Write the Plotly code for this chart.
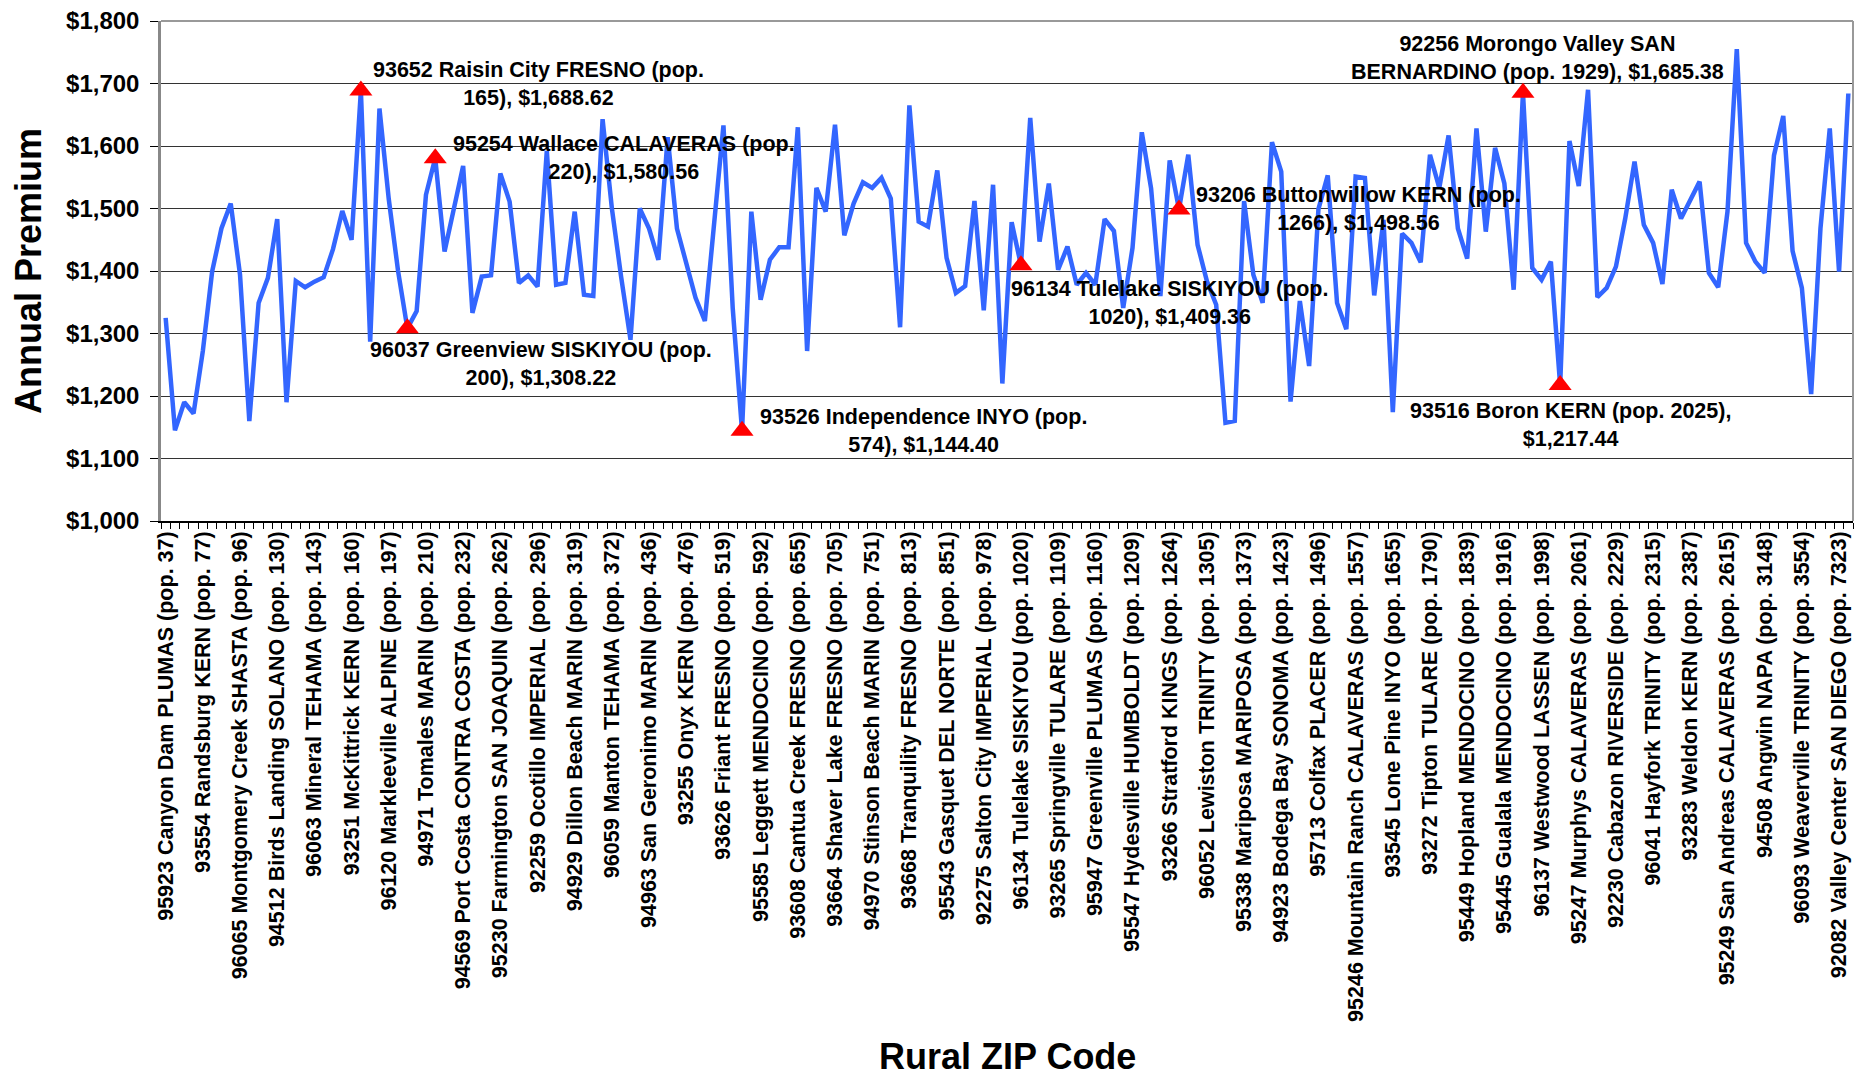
import plotly.graph_objects as go

# ---- data ----
premiums = [
    1325, 1145, 1190, 1172, 1272, 1399, 1468, 1508, 1394, 1160,
    1349, 1389, 1483, 1190, 1384, 1374, 1383, 1390, 1435, 1496,
    1450, 1688.62, 1287, 1660, 1515, 1400, 1308.22, 1336, 1522, 1580.56,
    1431, 1500, 1568, 1333, 1391, 1393, 1556, 1511, 1381, 1393,
    1375, 1592, 1378, 1381, 1495, 1362, 1360, 1643, 1500, 1390,
    1290, 1500, 1468, 1418, 1614, 1468, 1410, 1357, 1320, 1480,
    1633, 1340, 1144.40, 1495, 1354, 1418, 1438, 1438, 1630, 1272,
    1533, 1495, 1634, 1457, 1508, 1542, 1533, 1549, 1516, 1310,
    1665, 1479, 1471, 1561, 1421, 1365, 1376, 1512, 1337, 1538,
    1220, 1478, 1409.36, 1645, 1447, 1540, 1402, 1439, 1378, 1397,
    1378, 1483, 1464, 1341, 1437, 1622, 1532, 1360, 1577, 1498.56,
    1586, 1442, 1384, 1346, 1157, 1160, 1512, 1394, 1349, 1606,
    1559, 1191, 1352, 1248, 1499, 1553, 1349, 1307, 1551, 1549,
    1361, 1482, 1174, 1460, 1445, 1414, 1586, 1533, 1617, 1468,
    1420, 1628, 1463, 1597, 1540, 1370, 1685.38, 1405, 1386, 1415,
    1217.44, 1608, 1536, 1690, 1358, 1373, 1407, 1484, 1575, 1474,
    1445, 1379, 1530, 1484, 1514, 1543, 1397, 1374, 1495, 1755,
    1445, 1415, 1397, 1585, 1648, 1432, 1373, 1203, 1468, 1628,
    1399, 1684,
]

tick_labels = [
    "95923 Canyon Dam PLUMAS (pop. 37)",
    "93554 Randsburg KERN (pop. 77)",
    "96065 Montgomery Creek SHASTA (pop. 96)",
    "94512 Birds Landing SOLANO (pop. 130)",
    "96063 Mineral TEHAMA (pop. 143)",
    "93251 McKittrick KERN (pop. 160)",
    "96120 Markleeville ALPINE (pop. 197)",
    "94971 Tomales MARIN (pop. 210)",
    "94569 Port Costa CONTRA COSTA (pop. 232)",
    "95230 Farmington SAN JOAQUIN (pop. 262)",
    "92259 Ocotillo IMPERIAL (pop. 296)",
    "94929 Dillon Beach MARIN (pop. 319)",
    "96059 Manton TEHAMA (pop. 372)",
    "94963 San Geronimo MARIN (pop. 436)",
    "93255 Onyx KERN (pop. 476)",
    "93626 Friant FRESNO (pop. 519)",
    "95585 Leggett MENDOCINO (pop. 592)",
    "93608 Cantua Creek FRESNO (pop. 655)",
    "93664 Shaver Lake FRESNO (pop. 705)",
    "94970 Stinson Beach MARIN (pop. 751)",
    "93668 Tranquility FRESNO (pop. 813)",
    "95543 Gasquet DEL NORTE (pop. 851)",
    "92275 Salton City IMPERIAL (pop. 978)",
    "96134 Tulelake SISKIYOU (pop. 1020)",
    "93265 Springville TULARE (pop. 1109)",
    "95947 Greenville PLUMAS (pop. 1160)",
    "95547 Hydesville HUMBOLDT (pop. 1209)",
    "93266 Stratford KINGS (pop. 1264)",
    "96052 Lewiston TRINITY (pop. 1305)",
    "95338 Mariposa MARIPOSA (pop. 1373)",
    "94923 Bodega Bay SONOMA (pop. 1423)",
    "95713 Colfax PLACER (pop. 1496)",
    "95246 Mountain Ranch CALAVERAS (pop. 1557)",
    "93545 Lone Pine INYO (pop. 1655)",
    "93272 Tipton TULARE (pop. 1790)",
    "95449 Hopland MENDOCINO (pop. 1839)",
    "95445 Gualala MENDOCINO (pop. 1916)",
    "96137 Westwood LASSEN (pop. 1998)",
    "95247 Murphys CALAVERAS (pop. 2061)",
    "92230 Cabazon RIVERSIDE (pop. 2229)",
    "96041 Hayfork TRINITY (pop. 2315)",
    "93283 Weldon KERN (pop. 2387)",
    "95249 San Andreas CALAVERAS (pop. 2615)",
    "94508 Angwin NAPA (pop. 3148)",
    "96093 Weaverville TRINITY (pop. 3554)",
    "92082 Valley Center SAN DIEGO (pop. 7323)",
]
label_every = 4

# highlighted points (index into premiums) and their label templates
highlight_idx = [21, 29, 26, 62, 92, 109, 146, 150]
highlight_text = [
    "93652 Raisin City FRESNO (pop.<br>165), {v}",
    "95254 Wallace CALAVERAS (pop.<br>220), {v}",
    "96037 Greenview SISKIYOU (pop.<br>200), {v}",
    "93526 Independence INYO (pop.<br>574), {v}",
    "96134 Tulelake SISKIYOU (pop.<br>1020), {v}",
    "93206 Buttonwillow KERN (pop.<br>1266), {v}",
    "92256 Morongo Valley SAN<br>BERNARDINO (pop. 1929), {v}",
    "93516 Boron KERN (pop. 2025),<br>{v}",
]
# label offsets in pixels (style)
label_shift = [(178, 7), (189, 0), (134, -36), (181, 0),
               (149, -38), (180, 0), (15, 35), (10, -40)]

FONT = "Arial, 'Liberation Sans', sans-serif"

n = len(premiums)
xs = list(range(n))
tickvals = [k * label_every for k in range(len(tick_labels))]

fig = go.Figure()
fig.add_trace(go.Scatter(
    x=xs, y=premiums, mode="lines",
    line=dict(color="#3366FF", width=4.5),
    showlegend=False, hoverinfo="x+y",
))
fig.add_trace(go.Scatter(
    x=highlight_idx, y=[premiums[i] for i in highlight_idx], mode="markers",
    marker=dict(symbol="triangle-up", size=20, color="#FF0000"),
    showlegend=False,
))

annotations = []
for i, tpl, (dx, dy) in zip(highlight_idx, highlight_text, label_shift):
    annotations.append(dict(
        x=i, y=premiums[i], xref="x", yref="y",
        text="<b>" + tpl.format(v="${:,.2f}".format(premiums[i])) + "</b>",
        showarrow=False, xshift=dx, yshift=dy,
        xanchor="center", yanchor="middle", align="center",
        font=dict(family=FONT, size=21.5, color="black"),
    ))

annotations.append(dict(
    text="<b>Annual Premium</b>", xref="paper", yref="paper", x=0, y=0.5,
    xshift=-133, textangle=-90, showarrow=False, xanchor="center", yanchor="middle",
    font=dict(family=FONT, size=36, color="black"),
))
annotations.append(dict(
    text="<b>Rural ZIP Code</b>", xref="paper", yref="paper", x=0.5, y=0,
    yshift=-535, showarrow=False, xanchor="center", yanchor="middle",
    font=dict(family=FONT, size=36, color="black"),
))

# the page body adds an 8px offset; size the figure so the plot lands in place
fig.update_layout(
    width=1856, height=1068,
    margin=dict(l=153, r=11, t=13, b=555, autoexpand=False),
    paper_bgcolor="white", plot_bgcolor="white",
    annotations=annotations,
    shapes=[
        dict(type="line", xref="paper", yref="paper", x0=0, x1=1, y0=1, y1=1,
             line=dict(color="#999999", width=2)),
        dict(type="line", xref="paper", yref="paper", x0=1, x1=1, y0=0, y1=1,
             line=dict(color="#999999", width=2)),
    ],
    xaxis=dict(
        range=[-0.5, n - 0.5], tickmode="array", tickvals=tickvals, ticktext=tick_labels,
        tickangle=-90, ticks="", showgrid=False, zeroline=False, automargin=False,
        showline=True, linecolor="black", linewidth=1.5,
        tickfont=dict(family=FONT, size=21.5, color="black", weight="bold"),
        minor=dict(tickmode="array", tickvals=[k - 0.5 for k in range(n + 1)],
                   ticks="outside", ticklen=6, tickcolor="black", showgrid=False),
    ),
    yaxis=dict(
        range=[1000, 1800], tick0=1000, dtick=100, tickprefix="$", tickformat=",d",
        ticks="outside", ticklen=8, tickcolor="black", automargin=False,
        ticklabelstandoff=6, ticklabeloverflow="allow",
        showgrid=True, gridcolor="#333333", gridwidth=1, zeroline=False,
        showline=True, linecolor="#888888", linewidth=2.5,
        tickfont=dict(family=FONT, size=24, color="black", weight="bold"),
    ),
)

fig.write_html("out.html")
